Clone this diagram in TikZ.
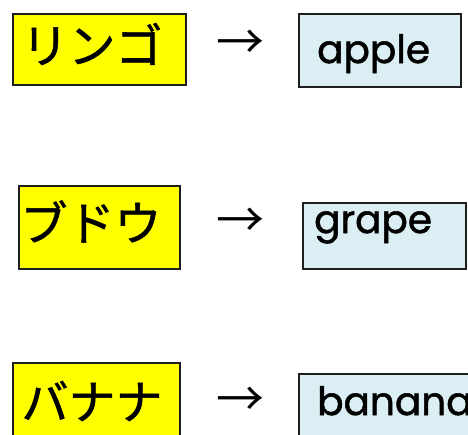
\documentclass[tikz,border=0pt]{standalone}
\usepackage{fontspec}
\newfontfamily\jpfont[FakeBold=1.2]{Noto Sans CJK JP}
\newfontfamily\arrfont{Noto Sans CJK JP}
\newfontfamily\enfont[FakeBold=1.3]{Poppins}
\definecolor{boxyellow}{RGB}{255,255,0}
\definecolor{boxblue}{RGB}{218,238,243}
\definecolor{boxline}{RGB}{30,30,30}
\begin{document}
\begin{tikzpicture}[x=1pt,y=-1pt,
  jbox/.style={draw=boxline,line width=1.8pt,fill=boxyellow,inner sep=0pt,anchor=north west},
  ebox/.style={draw=boxline,line width=1.8pt,fill=boxblue,inner sep=0pt,anchor=north west},
  jtext/.style={inner sep=0pt,font=\jpfont\fontsize{47}{50}\selectfont},
  etext/.style={inner sep=0pt,anchor=base west,font=\enfont\fontsize{39}{42}\selectfont},
  arr/.style={inner sep=0pt,font=\arrfont\fontsize{48}{50}\selectfont}]
\useasboundingbox (0,0) rectangle (468,434);
\fill[white] (0,0) rectangle (468,434);
% row 1
\node[jbox,minimum width=173pt,minimum height=71pt] (j1) at (12,13) {};
\node[jtext] (jt1) at (92,44) {リンゴ};
\node[arr] (a1) at (240,45) {→};
\node[ebox,minimum width=162pt,minimum height=73pt] (e1) at (298,13) {};
\node[etext] (et1) at (317,63) {apple};
% row 2
\node[jbox,minimum width=161pt,minimum height=83pt] (j2) at (18,185) {};
\node[jtext] (jt2) at (91,221.5) {ブドウ};
\node[arr] (a2) at (240,223) {→};
\node[ebox,minimum width=163pt,minimum height=66pt] (e2) at (302,202) {};
\node[etext] (et2) at (314,233) {grape};
% row 3
\node[jbox,minimum width=167pt,minimum height=90pt] (j3) at (12,362) {};
\node[jtext] (jt3) at (92,401) {バナナ};
\node[arr] (a3) at (240,402) {→};
\node[ebox,minimum width=200pt,minimum height=80pt] (e3) at (298,373) {};
\node[etext] (et3) at (317,415) {banana};
\end{tikzpicture}
\end{document}
